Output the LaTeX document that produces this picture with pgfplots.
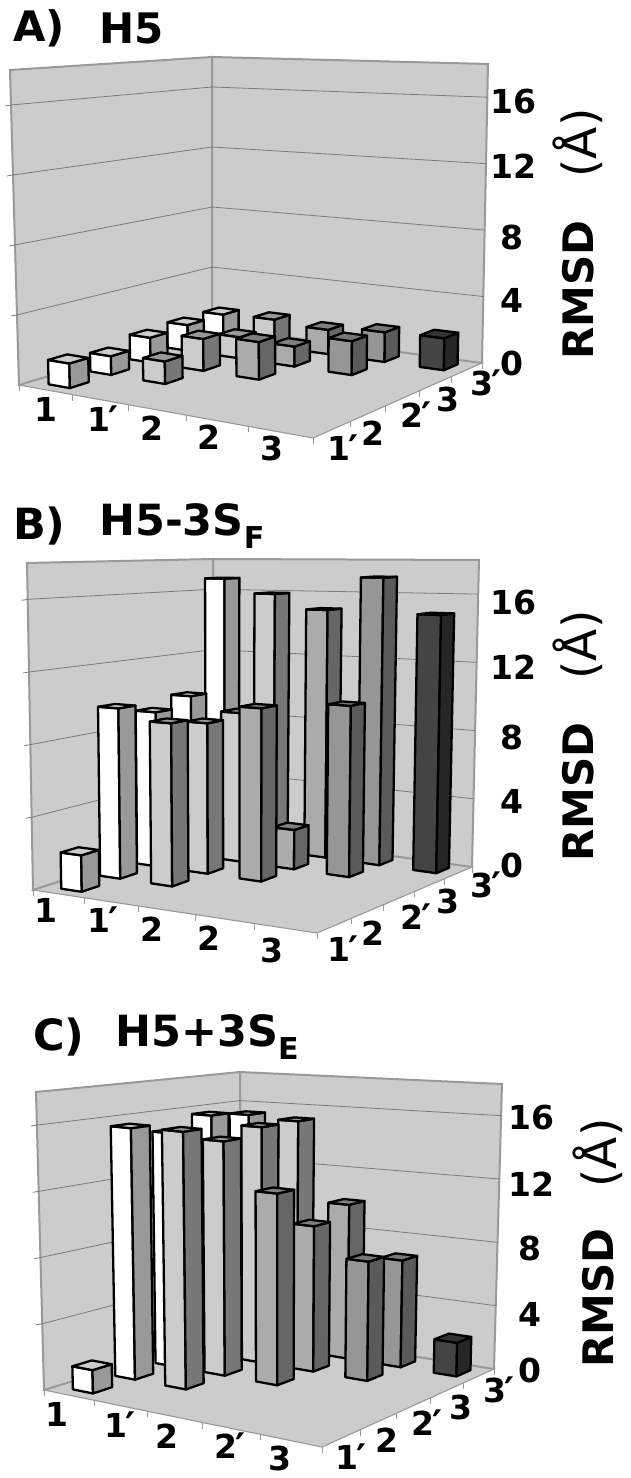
\documentclass[border=0pt]{standalone}
\usepackage{pgfplots}
\pgfplotsset{compat=1.18}
\usepackage{fontspec}
\setmainfont{DejaVu Sans}
\definecolor{wallc}{HTML}{CCCCCC}
\definecolor{edgec}{HTML}{999999}
\definecolor{gridc}{HTML}{7A7A7A}
\definecolor{fa}{HTML}{FFFFFF}\definecolor{ra}{HTML}{999999}\definecolor{ta}{HTML}{CCCCCC}
\definecolor{fb}{HTML}{CCCCCC}\definecolor{rb}{HTML}{777777}\definecolor{tb}{HTML}{999999}
\definecolor{fc}{HTML}{ABABAB}\definecolor{rc}{HTML}{666666}\definecolor{tc}{HTML}{808080}
\definecolor{fd}{HTML}{969696}\definecolor{rd}{HTML}{5A5A5A}\definecolor{td}{HTML}{777777}
\definecolor{fe}{HTML}{444444}\definecolor{re}{HTML}{262626}\definecolor{te}{HTML}{333333}
% panel geometry: floor corners and the height vectors (pixel space)
\newcommand{\setpanel}[8]{%
 \def\Lx{#1}\def\Ly{#2}\def\Bx{#3}\def\By{#4}\def\Fx{#5}\def\Fy{#6}\def\Rx{#7}\def\Ry{#8}\setpanelb}
\newcommand{\setpanelb}[6]{%
 \pgfmathsetmacro\HLx{#1-\Lx}\pgfmathsetmacro\HLy{#2-\Ly}%
 \pgfmathsetmacro\HBx{#3-\Bx}\pgfmathsetmacro\HBy{#4-\By}%
 \pgfmathsetmacro\HRx{#5-\Rx}\pgfmathsetmacro\HRy{#6-\Ry}}
% projection of (u,v,z) into panel space, z in RMSD units (axis top = 18)
\newcommand{\prj}[4]{%
 \pgfmathsetmacro\uu{#2/(#2+1.128*(1-#2))}%
 \pgfmathsetmacro\vv{#3/(#3+0.88*(1-#3))}%
 \pgfmathsetmacro\tmpX{\Lx+\uu*(\Fx-\Lx)+\vv*(\Bx-\Lx)+\uu*\vv*(\Rx-\Fx-\Bx+\Lx)+(#4/18)*(\HLx+\uu*(\HRx-\HBx)+\vv*(\HBx-\HLx))}%
 \pgfmathsetmacro\tmpY{\Ly+\uu*(\Fy-\Ly)+\vv*(\By-\Ly)+\uu*\vv*(\Ry-\Fy-\By+\Ly)+(#4/18)*(\HLy+\uu*(\HRy-\HBy)+\vv*(\HBy-\HLy))}%
 \expandafter\edef\csname #1\endcsname{(\tmpX,\tmpY)}%
 \expandafter\edef\csname #1x\endcsname{\tmpX}%
 \expandafter\edef\csname #1y\endcsname{\tmpY}}
\newcommand{\poly}[2]{\edef\doit{\noexpand\addplot[#1] coordinates {#2} --cycle;}\doit}
\newcommand{\pline}[2]{\edef\doit{\noexpand\addplot[#1] coordinates {#2};}\doit}
% one bar: cell i (x category), cell j (y category), height
\newcommand{\rbar}[3]{%
 \pgfmathsetmacro\cu{(#1-0.5)/5+0.006}\pgfmathsetmacro\cv{(#2-0.5)/5+0.002}%
 \pgfmathsetmacro\ua{\cu-0.04}\pgfmathsetmacro\ub{\cu+0.04}%
 \pgfmathsetmacro\va{\cv-0.045}\pgfmathsetmacro\vb{\cv+0.045}%
 \prj{Aa}{\ua}{\va}{0}\prj{Ab}{\ub}{\va}{0}\prj{Ac}{\ub}{\vb}{0}%
 \prj{Ta}{\ua}{\va}{#3}\prj{Tb}{\ub}{\va}{#3}\prj{Tc}{\ub}{\vb}{#3}\prj{Td}{\ua}{\vb}{#3}%
 \edef\ff{f\ifcase#1\or a\or b\or c\or d\or e\fi}%
 \edef\rr{r\ifcase#1\or a\or b\or c\or d\or e\fi}%
 \edef\tq{t\ifcase#1\or a\or b\or c\or d\or e\fi}%
 \poly{draw=black,line width=2.3pt,line join=round,fill=\ff}{\Aa \Ab \Tb \Ta}%
 \poly{draw=black,line width=2.3pt,line join=round,fill=\rr}{\Ab \Ac \Tc \Tb}%
 \poly{draw=black,line width=2.3pt,line join=round,fill=\tq}{\Ta \Tb \Tc \Td}}
% walls, floor, gridlines, ticks
\newcommand{\panelframe}{%
 \prj{La}{0}{0}{0}\prj{Fa}{1}{0}{0}\prj{Ra}{1}{1}{0}\prj{Ba}{0}{1}{0}%
 \prj{Lt}{0}{0}{18}\prj{Rt}{1}{1}{18}\prj{Bt}{0}{1}{18}%
 \poly{draw=edgec,line width=1.1pt,fill=wallc}{\La \Fa \Ra \Ba}%
 \poly{draw=edgec,line width=2pt,fill=wallc}{\La \Ba \Bt \Lt}%
 \poly{draw=edgec,line width=2pt,fill=wallc}{\Ba \Ra \Rt \Bt}%
 \foreach \z in {4,8,12,16}{%
  \prj{Ga}{0}{0}{\z}\prj{Gb}{0}{1}{\z}\prj{Gc}{1}{1}{\z}%
  \pgfmathsetmacro\gx{\Gax-6}\pgfmathsetmacro\gy{\Gay+1}%
  \pline{draw=gridc,line width=0.8pt}{(\gx,\gy) \Ga \Gb \Gc}}%
 \foreach \k in {0,0.2,0.4,0.6,0.8,1}{%
  \prj{Ga}{\k}{0}{0}\pgfmathsetmacro\gy{\Gay+6}%
  \pline{draw=edgec,line width=0.8pt}{\Ga (\Gax,\gy)}%
  \prj{Ga}{1}{\k}{0}\pgfmathsetmacro\gy{\Gay+6}%
  \pline{draw=edgec,line width=0.8pt}{\Ga (\Gax,\gy)}}}
\newcommand{\prm}{\kern-1.5pt\smash{\raisebox{-2pt}{\fontsize{38}{38}\selectfont ′}}\kern-2pt}
\tikzset{lab/.style={font=\fontsize{33}{33}\selectfont\bfseries,inner sep=0pt},
 ttl/.style={font=\fontsize{42}{42}\selectfont\bfseries,inner sep=0pt,anchor=west},
 ttlb/.style={font=\fontsize{43}{43}\selectfont\bfseries,inner sep=0pt,anchor=west},
 rlab/.style={font=\fontsize{42}{42}\selectfont\bfseries,inner sep=0pt,rotate=90},
 ulab/.style={font=\fontsize{47}{47}\selectfont,inner sep=0pt,rotate=90}}
\pgfplotsset{panel/.style={hide axis,scale only axis,width=630pt,clip=false,xmin=0,xmax=630,y dir=reverse,anchor=south west}}
\begin{document}
\begin{tikzpicture}[x=1pt,y=1pt]
\path[use as bounding box] (0,0) rectangle (630,1478);
% ---------------- A
\begin{axis}[panel,at={(0pt,988pt)},height=490pt,ymin=0,ymax=490]
\setpanel{19}{385}{212}{327}{313}{438}{482}{363}{10}{70}{212}{57}{488}{64}
\panelframe
\rbar{1}{5}{1.6}\rbar{1}{4}{1.6}\rbar{1}{3}{1.5}\rbar{1}{2}{1.1}\rbar{1}{1}{1.4}
\rbar{2}{5}{1.7}\rbar{2}{4}{1.3}\rbar{2}{3}{1.9}\rbar{2}{2}{1.3}
\rbar{3}{5}{1.5}\rbar{3}{4}{1.2}\rbar{3}{3}{2.2}
\rbar{4}{5}{1.8}\rbar{4}{4}{2.0}
\rbar{5}{5}{1.9}
\node[ttl] at (axis cs:13,28) {A)};
\node[ttl] at (axis cs:99,28) {H5};
\node[lab] at (axis cs:46,409) {1};
\node[lab] at (axis cs:102,419) {1\prm};
\node[lab] at (axis cs:152,428) {2};
\node[lab] at (axis cs:209,437) {2};
\node[lab] at (axis cs:272,448) {3};
\node[lab] at (axis cs:342,448) {1\prm};
\node[lab] at (axis cs:373,433) {2};
\node[lab] at (axis cs:415,415) {2\prm};
\node[lab] at (axis cs:448,399) {3};
\node[lab] at (axis cs:485,383) {3\prm};
\node[lab] at (axis cs:513,102) {16};
\node[lab] at (axis cs:513,166) {12};
\node[lab] at (axis cs:512,237) {8};
\node[lab] at (axis cs:512,300) {4};
\node[lab] at (axis cs:512,363) {0};
\node[rlab] at (axis cs:578,290) {RMSD};
\node[ulab] at (axis cs:578,143) {(Å)};
\end{axis}
% ---------------- B
\begin{axis}[panel,at={(0pt,493pt)},height=495pt,ymin=490,ymax=985]
\setpanel{33}{890}{213}{831}{317}{933}{472}{867}{27}{563}{213}{559}{479}{560}
\panelframe
\rbar{1}{5}{16.8}\rbar{1}{4}{9.7}\rbar{1}{3}{9.1}\rbar{1}{2}{9.7}\rbar{1}{1}{2.0}
\rbar{2}{5}{15.9}\rbar{2}{4}{8.9}\rbar{2}{3}{8.7}\rbar{2}{2}{9.1}
\rbar{3}{5}{15.0}\rbar{3}{4}{2.3}\rbar{3}{3}{9.8}
\rbar{4}{5}{17.0}\rbar{4}{4}{9.8}
\rbar{5}{5}{14.9}
\node[ttlb] at (axis cs:13,526) {B)};
\node[ttlb] at (axis cs:99,526) {H5-3S\textsubscript{F}};
\node[lab] at (axis cs:46,910) {1};
\node[lab] at (axis cs:102,920) {1\prm};
\node[lab] at (axis cs:152,929) {2};
\node[lab] at (axis cs:209,938) {2};
\node[lab] at (axis cs:272,950) {3};
\node[lab] at (axis cs:342,949) {1\prm};
\node[lab] at (axis cs:373,933) {2};
\node[lab] at (axis cs:415,917) {2\prm};
\node[lab] at (axis cs:448,901) {3};
\node[lab] at (axis cs:485,885) {3\prm};
\node[lab] at (axis cs:513,603) {16};
\node[lab] at (axis cs:513,667) {12};
\node[lab] at (axis cs:512,737) {8};
\node[lab] at (axis cs:512,801) {4};
\node[lab] at (axis cs:512,865) {0};
\node[rlab] at (axis cs:578,792) {RMSD};
\node[ulab] at (axis cs:578,645) {(Å)};
\end{axis}
% ---------------- C
\begin{axis}[panel,at={(0pt,0pt)},height=493pt,ymin=985,ymax=1478]
\setpanel{44}{1390}{240}{1329}{322}{1447}{494}{1369}{36}{1092}{240}{1072}{502}{1084}
\panelframe
\rbar{1}{5}{15.4}\rbar{1}{4}{15.7}\rbar{1}{3}{14.9}\rbar{1}{2}{15.6}\rbar{1}{1}{1.4}
\rbar{2}{5}{15.2}\rbar{2}{4}{15.2}\rbar{2}{3}{14.7}\rbar{2}{2}{15.7}
\rbar{3}{5}{10.0}\rbar{3}{4}{9.2}\rbar{3}{3}{11.8}
\rbar{4}{5}{6.8}\rbar{4}{4}{7.4}
\rbar{5}{5}{2.1}
\node[ttlb] at (axis cs:33,1037) {C)};
\node[ttlb] at (axis cs:115,1037) {H5+3S\textsubscript{E}};
\node[lab] at (axis cs:57,1414) {1};
\node[lab] at (axis cs:119,1425) {1\prm};
\node[lab] at (axis cs:167,1436) {2};
\node[lab] at (axis cs:229,1446) {2\prm};
\node[lab] at (axis cs:280,1458) {3};
\node[lab] at (axis cs:350,1457) {1\prm};
\node[lab] at (axis cs:387,1440) {2};
\node[lab] at (axis cs:426,1423) {2\prm};
\node[lab] at (axis cs:461,1407) {3};
\node[lab] at (axis cs:498,1390) {3\prm};
\node[lab] at (axis cs:531,1118) {16};
\node[lab] at (axis cs:531,1184) {12};
\node[lab] at (axis cs:530,1248) {8};
\node[lab] at (axis cs:530,1314) {4};
\node[lab] at (axis cs:530,1370) {0};
\node[rlab] at (axis cs:598,1298) {RMSD};
\node[ulab] at (axis cs:598,1153) {(Å)};
\end{axis}
\end{tikzpicture}
\end{document}
